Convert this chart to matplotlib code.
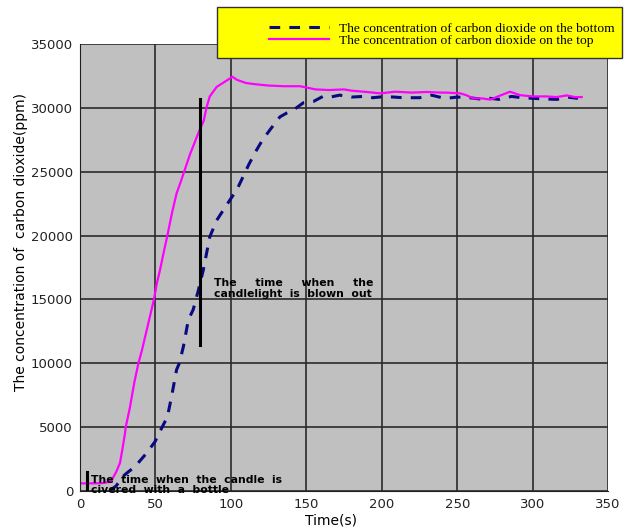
import matplotlib
matplotlib.use("Agg")
import matplotlib.pyplot as plt
from matplotlib.patches import Rectangle

# Top sensor (magenta)
top_t = [0, 10, 15, 19, 21, 24, 26.5, 28, 29.8, 30.3, 33, 36, 38.7, 41, 44, 47, 49, 51, 53, 55.5,
         57.9, 61, 64, 67, 69, 71, 73, 76, 79, 82, 84, 86, 90.6, 97, 101, 104, 110, 116.6,
         125, 135, 145.8, 150, 156, 165, 175, 180, 190, 199, 209, 220, 230, 238.6, 243, 252,
         256, 260.5, 266, 272, 277, 285, 291.6, 300, 309, 316, 322.5, 328, 332.5]
top_v = [600, 600, 620, 700, 850, 1500, 2200, 3200, 4500, 5000, 6500, 8500, 10000, 11000, 12500, 14000, 15000, 16300, 17300, 18700,
         20000, 21800, 23300, 24300, 25000, 25700, 26400, 27300, 28200, 29000, 30100, 30900, 31650, 32130, 32440, 32200, 31950, 31850,
         31750, 31700, 31700, 31600, 31450, 31400, 31450, 31350, 31250, 31140, 31270, 31200, 31250, 31200, 31200, 31140,
         31000, 30750, 30750, 30650, 30900, 31270, 31000, 30900, 30900, 30850, 30980, 30850, 30850]

# Bottom sensor (dark blue dashed)
bot_t = [20, 24, 28, 32, 36.4, 40, 44, 49.7, 54, 57.9, 60.7, 64, 65.8, 68.5, 71.8, 75, 78.4, 81.7,
         86, 90.6, 95, 99.4, 104, 108, 112, 117, 121, 126, 132.5, 137, 141, 148, 154.6, 161, 166,
         172, 180, 187.6, 194, 201, 208, 214, 225, 233, 242, 250, 258, 265, 272, 277.6, 286, 293,
         300.6, 308, 316, 324, 330]
bot_v = [50, 400, 1100, 1500, 1900, 2400, 2950, 3860, 4900, 5800, 7400, 9500, 10000, 11300, 13400, 14200, 15700, 17300,
         19900, 21200, 22000, 22800, 23600, 24600, 25600, 26700, 27500, 28300, 29300, 29600, 29800, 30400, 30500, 30900, 30850,
         31000, 30850, 30900, 30800, 30880, 30850, 30800, 30800, 31000, 30740, 30850, 30800, 30700, 30750, 30670, 30900, 30800,
         30750, 30700, 30670, 30830, 30750]

x_ticks = [0, 50, 100, 150, 200, 250, 300, 350]
y_ticks = [0, 5000, 10000, 15000, 20000, 25000, 30000, 35000]

fig = plt.figure(figsize=(6.25, 5.31), dpi=100)
ax = fig.add_axes([0.128, 0.0753, 0.845, 0.8417])
ax.set_facecolor("#C0C0C0")
ax.set_xlim(0, 350)
ax.set_ylim(0, 35000)
ax.set_xticks(x_ticks)
ax.set_yticks(y_ticks)
ax.grid(True, color="#2A2A2A", linewidth=1.2)
ax.set_axisbelow(True)
ax.tick_params(length=0, labelsize=9.5, pad=5, colors="#222222")
for s in ["top", "right"]:
    ax.spines[s].set_visible(False)
for s in ["left", "bottom"]:
    ax.spines[s].set_color("#202020")

l1, = ax.plot(bot_t, bot_v, color="#0A0A80", linestyle=(0, (3.5, 3)), linewidth=2.2,
              label="The concentration of carbon dioxide on the bottom")
l2, = ax.plot(top_t, top_v, color="#FF00FF", linewidth=1.6,
              label="The concentration of carbon dioxide on the top")

# event markers
ax.plot([79.5, 79.5], [11430, 30700], color="black", linewidth=2.2)
ax.plot([4.6, 4.6], [80, 1500], color="black", linewidth=2.2)

ax.text(89, 15850, "The     time     when     the\ncandlelight  is  blown  out",
        family="DejaVu Sans", fontsize=7.8, fontweight="bold", va="center", ha="left",
        linespacing=1.05)
ax.text(7.5, 500, "The  time  when  the  candle  is\ncivered  with  a  bottle",
        family="DejaVu Sans", fontsize=7.8, fontweight="bold", va="center", ha="left",
        linespacing=1.0)

ax.set_xlabel("Time(s)", fontsize=10)
ax.xaxis.set_label_coords(0.475, -0.05)
ax.set_ylabel("The concentration of  carbon dioxide(ppm)", fontsize=10)
ax.yaxis.set_label_coords(-0.098, 0.557)

# legend box
fig.patches.append(Rectangle((0.347, 0.891), 0.648, 0.096, transform=fig.transFigure,
                             facecolor="#FFFF00", edgecolor="#333333", linewidth=1.0, zorder=5))
leg = fig.legend(handles=[l1, l2], loc="center left", bbox_to_anchor=(0.431, 0.935),
                 prop={"family": "Liberation Serif", "size": 9.7}, frameon=False,
                 borderpad=0, borderaxespad=0, handlelength=4.4, labelspacing=0.0,
                 handletextpad=0.75)
leg.set_zorder(6)

fig.savefig("out.png", dpi=100)
